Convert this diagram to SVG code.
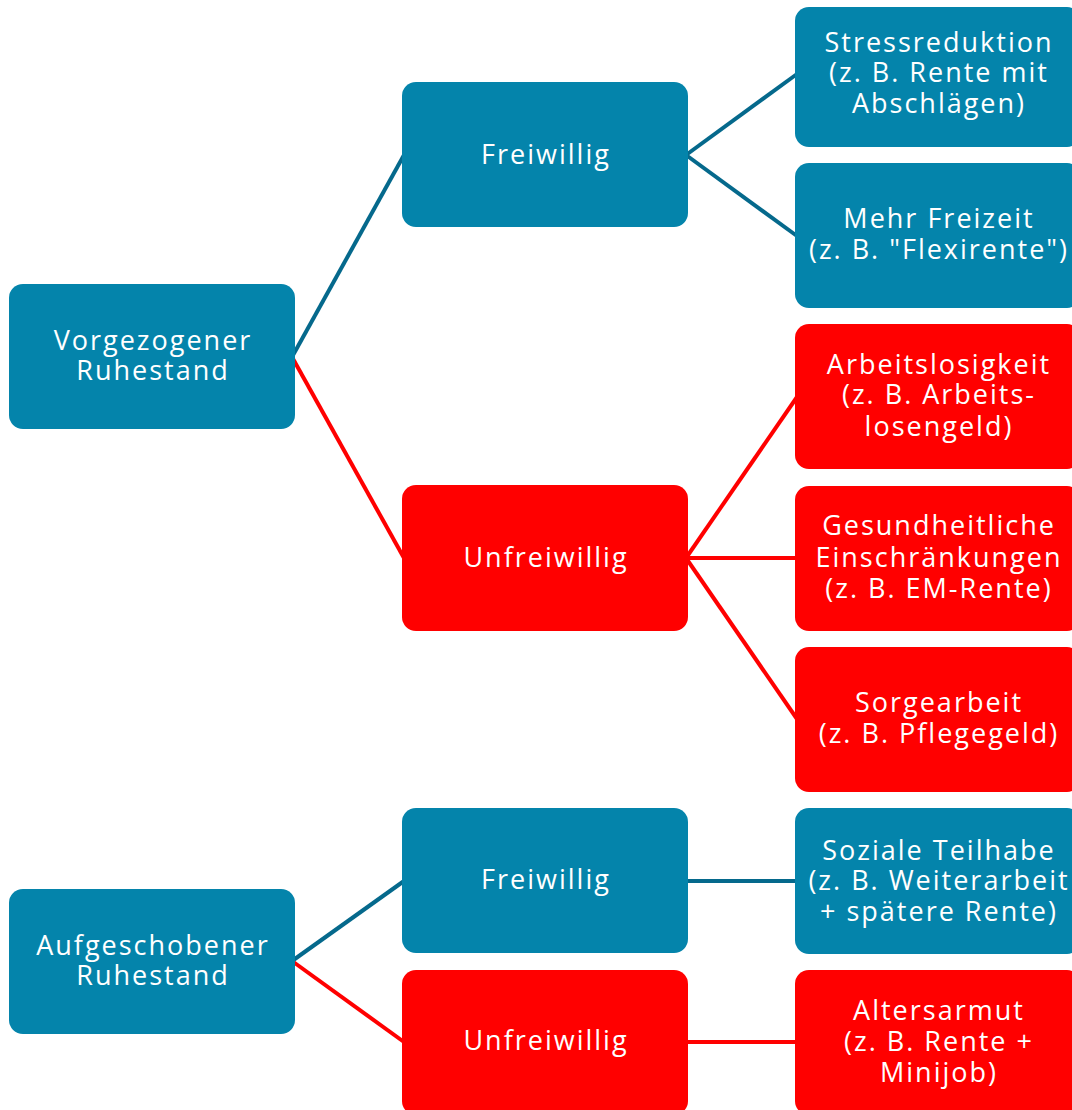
<svg xmlns="http://www.w3.org/2000/svg" width="1072" height="1110" viewBox="0 0 1072 1110">
<style>
.b{fill:#0484ab}
.r{fill:#ff0000}
.cb{stroke:#05698c;stroke-width:4;fill:none}
.cr{stroke:#ff0000;stroke-width:4;fill:none}
text{font-family:"Open Sans","DejaVu Sans",sans-serif;font-size:27px;fill:#ffffff;text-anchor:middle;letter-spacing:2px}
</style>
<rect width="1072" height="1110" fill="#ffffff"/>
<g id="connectors">
<line class="cb" x1="292" y1="357" x2="404" y2="155"/>
<line class="cr" x1="292" y1="357" x2="404" y2="558"/>
<line class="cb" x1="686" y1="155" x2="797" y2="74"/>
<line class="cb" x1="686" y1="155" x2="797" y2="236"/>
<line class="cr" x1="686" y1="558" x2="797" y2="397"/>
<line class="cr" x1="686" y1="558" x2="797" y2="558"/>
<line class="cr" x1="686" y1="558" x2="797" y2="719"/>
<line class="cb" x1="292" y1="961" x2="404" y2="881"/>
<line class="cr" x1="292" y1="961" x2="404" y2="1042"/>
<line class="cb" x1="686" y1="881" x2="797" y2="881"/>
<line class="cr" x1="686" y1="1042" x2="797" y2="1042"/>
</g>
<g id="n-vorgezogen"><rect class="b" x="9" y="284" width="286" height="145" rx="14"/><text x="153" y="350">Vorgezogener</text><text x="153" y="380">Ruhestand</text></g>
<g id="n-aufgeschoben"><rect class="b" x="9" y="889" width="286" height="145" rx="14"/><text x="153" y="955">Aufgeschobener</text><text x="153" y="985">Ruhestand</text></g>
<g id="n-freiwillig1"><rect class="b" x="402" y="82" width="286" height="145" rx="14"/><text x="546" y="164">Freiwillig</text></g>
<g id="n-unfreiwillig1"><rect class="r" x="402" y="485" width="286" height="146" rx="14"/><text x="546" y="567">Unfreiwillig</text></g>
<g id="n-freiwillig2"><rect class="b" x="402" y="808" width="286" height="145" rx="14"/><text x="546" y="889">Freiwillig</text></g>
<g id="n-unfreiwillig2"><rect class="r" x="402" y="970" width="286" height="145" rx="14"/><text x="546" y="1050">Unfreiwillig</text></g>
<g id="n-stress"><rect class="b" x="795" y="7" width="286" height="140" rx="14"/><text x="939" y="52">Stressreduktion</text><text x="939" y="82">(z. B. Rente mit</text><text x="939" y="113">Abschlägen)</text></g>
<g id="n-freizeit"><rect class="b" x="795" y="163" width="286" height="145" rx="14"/><text x="939" y="228">Mehr Freizeit</text><text x="939" y="259">(z. B. "Flexirente")</text></g>
<g id="n-arbeitslos"><rect class="r" x="795" y="324" width="286" height="145" rx="14"/><text x="939" y="374">Arbeitslosigkeit</text><text x="939" y="404">(z. B. Arbeits-</text><text x="939" y="436">losengeld)</text></g>
<g id="n-gesundheit"><rect class="r" x="795" y="486" width="286" height="145" rx="14"/><text x="939" y="535">Gesundheitliche</text><text x="939" y="567">Einschränkungen</text><text x="939" y="598">(z. B. EM-Rente)</text></g>
<g id="n-sorge"><rect class="r" x="795" y="647" width="286" height="145" rx="14"/><text x="939" y="712">Sorgearbeit</text><text x="939" y="743">(z. B. Pflegegeld)</text></g>
<g id="n-teilhabe"><rect class="b" x="795" y="808" width="286" height="146" rx="14"/><text x="939" y="860">Soziale Teilhabe</text><text x="939" y="890">(z. B. Weiterarbeit</text><text x="939" y="921">+ spätere Rente)</text></g>
<g id="n-altersarmut"><rect class="r" x="795" y="970" width="286" height="145" rx="14"/><text x="939" y="1020">Altersarmut</text><text x="939" y="1051">(z. B. Rente +</text><text x="939" y="1082">Minijob)</text></g>
</svg>
